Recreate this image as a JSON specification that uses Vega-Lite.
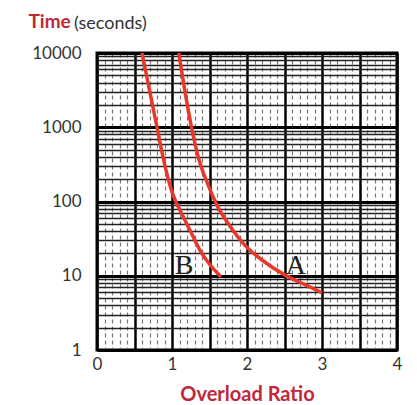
{
  "$schema": "https://vega.github.io/schema/vega-lite/v6.json",
  "width": 300,
  "height": 297,
  "autosize": {"type": "none"},
  "padding": {"left": 97, "top": 53, "right": 20, "bottom": 55},
  "background": "white",
  "title": {
    "text": "(seconds)",
    "anchor": "start",
    "frame": "group",
    "dx": -23,
    "dy": 35,
    "offset": 0,
    "baseline": "alphabetic",
    "font": "Lato",
    "fontSize": 18,
    "fontWeight": "normal",
    "color": "#333333"
  },
  "config": {
    "view": {"stroke": "#000000", "strokeWidth": 3},
    "font": "Lato"
  },
  "datasets": {
    "curves": [
      {"curve": "B", "ratio": 0.6, "time": 10000},
      {"curve": "B", "ratio": 0.7, "time": 3160},
      {"curve": "B", "ratio": 0.8, "time": 1000},
      {"curve": "B", "ratio": 0.88, "time": 398},
      {"curve": "B", "ratio": 0.95, "time": 200},
      {"curve": "B", "ratio": 1.0, "time": 135},
      {"curve": "B", "ratio": 1.05, "time": 100},
      {"curve": "B", "ratio": 1.107, "time": 76},
      {"curve": "B", "ratio": 1.24, "time": 41},
      {"curve": "B", "ratio": 1.373, "time": 22},
      {"curve": "B", "ratio": 1.533, "time": 13.1},
      {"curve": "B", "ratio": 1.653, "time": 9.7},
      {"curve": "A", "ratio": 1.09, "time": 10000},
      {"curve": "A", "ratio": 1.17, "time": 3160},
      {"curve": "A", "ratio": 1.26, "time": 1000},
      {"curve": "A", "ratio": 1.35, "time": 398},
      {"curve": "A", "ratio": 1.47, "time": 178},
      {"curve": "A", "ratio": 1.613, "time": 84},
      {"curve": "A", "ratio": 1.747, "time": 51},
      {"curve": "A", "ratio": 1.973, "time": 25.7},
      {"curve": "A", "ratio": 2.2, "time": 16.3},
      {"curve": "A", "ratio": 2.507, "time": 10.2},
      {"curve": "A", "ratio": 2.773, "time": 7.6},
      {"curve": "A", "ratio": 3.0, "time": 5.9}
    ],
    "labels": [
      {"label": "B", "ratio": 1.16, "time": 10.6},
      {"label": "A", "ratio": 2.65, "time": 10.6}
    ]
  },
  "layer": [
    {
      "data": {"name": "curves"},
      "mark": {"type": "line", "color": "#e8382a", "strokeWidth": 3.5, "interpolate": "monotone"},
      "encoding": {
        "x": {
          "field": "ratio",
          "type": "quantitative",
          "scale": {"domain": [0, 4], "nice": false, "zero": false},
          "axis": {
            "values": [0,0.1,0.2,0.3,0.4,0.5,0.6,0.7,0.8,0.9,1,1.1,1.2,1.3,1.4,1.5,1.6,1.7,1.8,1.9,2,2.1,2.2,2.3,2.4,2.5,2.6,2.7,2.8,2.9,3,3.1,3.2,3.3,3.4,3.5,3.6,3.7,3.8,3.9,4],
            "tickCount": 200,
            "tickMinStep": 0.1,
            "labelExpr": "datum.value % 1 === 0 ? format(datum.value, 'd') : ''",
            "labelOverlap": false,
            "labelFlush": false,
            "labelFont": "Lato",
            "labelFontSize": 17,
            "labelColor": "#333333",
            "labelPadding": 6,
            "ticks": false,
            "domain": false,
            "grid": true,
            "gridColor": {"condition": {"test": "datum.value % 0.5 === 0", "value": "#000000"}, "value": "#777777"},
            "gridWidth": {"condition": {"test": "datum.value % 0.5 === 0", "value": 2.5}, "value": 1.2},
            "gridDash": {"condition": {"test": "datum.value % 0.5 === 0", "value": []}, "value": [4, 3]},
            "gridOpacity": 1,
            "title": "Overload Ratio",
            "titleFont": "Lato",
            "titleFontSize": 20,
            "titleFontWeight": "bold",
            "titleColor": "#c0283a",
            "titleY": 50,
            "titleBaseline": "alphabetic"
          }
        },
        "y": {
          "field": "time",
          "type": "quantitative",
          "scale": {"type": "log", "domain": [1, 10000], "nice": false},
          "axis": {
            "values": [1,2,3,4,5,6,7,8,9,10,20,30,40,50,60,70,80,90,100,200,300,400,500,600,700,800,900,1000,2000,3000,4000,5000,6000,7000,8000,9000,10000],
            "tickCount": 200,
            "labelExpr": "indexof([1,10,100,1000,10000], datum.value) >= 0 ? format(datum.value, 'd') : ''",
            "labelOverlap": false,
            "labelBound": false,
            "labelFont": "Lato",
            "labelFontSize": 17,
            "labelColor": "#333333",
            "labelPadding": 16,
            "ticks": false,
            "domain": false,
            "grid": true,
            "gridColor": {"condition": {"test": "indexof([1,10,100,1000,10000], datum.value) >= 0", "value": "#000000"}, "value": "#222222"},
            "gridWidth": {"condition": {"test": "indexof([1,10,100,1000,10000], datum.value) >= 0", "value": 3}, "value": 1.3},
            "gridOpacity": 1,
            "title": "Time",
            "titleFont": "Lato",
            "titleFontSize": 19,
            "titleFontWeight": "bold",
            "titleColor": "#c0283a",
            "titleAngle": 0,
            "titleAlign": "left",
            "titleBaseline": "alphabetic",
            "titleX": -69,
            "titleY": -26
          }
        },
        "detail": {"field": "curve", "type": "nominal"}
      }
    },
    {
      "data": {"name": "labels"},
      "mark": {"type": "text", "font": "Liberation Serif", "fontSize": 28, "color": "#222222", "baseline": "alphabetic", "align": "center"},
      "encoding": {
        "x": {"field": "ratio", "type": "quantitative"},
        "y": {"field": "time", "type": "quantitative"},
        "text": {"field": "label", "type": "nominal"}
      }
    }
  ]
}
